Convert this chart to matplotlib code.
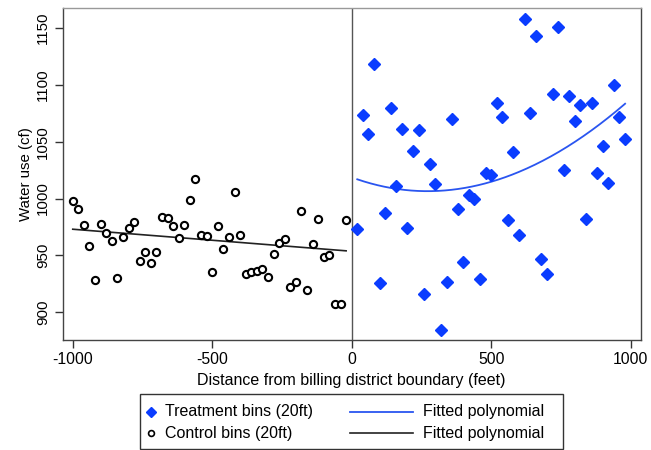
import numpy as np
import matplotlib
matplotlib.use("Agg")
import matplotlib.pyplot as plt
from matplotlib.patches import Rectangle
from matplotlib.lines import Line2D

plt.rcParams['font.family'] = ['Liberation Sans', 'DejaVu Sans']

# ---- data ----
control_x = list(range(-1000, 0, 20))
control_y = [998, 991, 977, 958, 928, 978, 970, 963, 930, 966,
             974, 979, 945, 953, 943, 953, 984, 983, 976, 965,
             977, 999, 1017, 968, 967, 935, 976, 956, 966, 1006,
             968, 934, 935, 936, 938, 931, 951, 961, 964, 922,
             927, 989, 920, 960, 982, 949, 950, 907, 907, 981]

treat_x = list(range(20, 1000, 20))
treat_y = [973, 1073, 1057, 1118, 926, 987, 1080, 1011, 1061, 974,
           1042, 1060, 916, 1030, 1013, 884, 927, 1070, 991, 944,
           1003, 1000, 929, 1022, 1021, 1084, 1072, 981, 1041, 968,
           1158, 1075, 1143, 947, 934, 1092, 1151, 1025, 1090, 1068,
           1082, 982, 1084, 1022, 1046, 1014, 1100, 1072, 1052]

# fitted polynomial values
control_fit_x = [-1000, -20]
control_fit_y = [973, 954]
treat_fit_x = [20, 257, 472, 675, 980]
treat_fit_y = [1017, 1006, 1013.6, 1031.5, 1083.4]

x_ticks = [-1000, -500, 0, 500, 1000]
y_ticks = [900, 950, 1000, 1050, 1100, 1150]

legend_labels = ['Treatment bins (20ft)', 'Control bins (20ft)',
                 'Fitted polynomial', 'Fitted polynomial']

blue = '#0a3cff'
fit_blue = '#2a55f0'
W, H = 651, 450

fig = plt.figure(figsize=(W / 100, H / 100), dpi=100)
ax = fig.add_axes([62.7 / W, 1 - 340 / H, (640.7 - 62.7) / W, (340 - 8) / H])

cx = np.array(control_x); cy = np.array(control_y)
tx = np.array(treat_x); ty = np.array(treat_y)

cc = np.polyfit(control_fit_x, control_fit_y, 1)
cfx = np.linspace(min(control_fit_x), max(control_fit_x), 100)
tc = np.polyfit(treat_fit_x, treat_fit_y, 3)
tfx = np.linspace(min(treat_fit_x), max(treat_fit_x), 200)

ax.axvline(0, color='#555555', lw=1.0, zorder=1)

ax.plot(tx, ty, linestyle='none', marker='D', ms=6.3, color=blue, mec=blue, zorder=3)
ax.plot(cx, cy, linestyle='none', marker='o', ms=5.2, mfc='white', mec='black', mew=1.5, zorder=3)
ax.plot(tfx, np.polyval(tc, tfx), color=fit_blue, lw=1.3, zorder=2)
ax.plot(cfx, np.polyval(cc, cfx), color='#222222', lw=1.2, zorder=2)

ax.set_xlim(-1036, 1036)
ax.set_ylim(875.6, 1167.5)
ax.set_xticks(x_ticks)
ax.set_xticklabels([str(v) for v in x_ticks])
ax.set_yticks(y_ticks)
ax.set_yticklabels([str(v) for v in y_ticks], rotation=90, va='center')
ax.tick_params(axis='both', direction='out', length=6, width=1, color='#333333', pad=3)
ax.tick_params(axis='x', labelsize=11.3)
ax.tick_params(axis='y', labelsize=10.8)

for s in ['left', 'bottom', 'right']:
    ax.spines[s].set_color('#444444')
    ax.spines[s].set_linewidth(1.0)
ax.spines['top'].set_color('#999999')
ax.spines['top'].set_linewidth(1.0)

ax.set_xlabel('Distance from billing district boundary (feet)', fontsize=11.5, labelpad=4)
ax.set_ylabel('Water use (cf)', fontsize=10.8, labelpad=2)

# ---- legend drawn in pixel coordinates ----
lax = fig.add_axes([0, 0, 1, 1], zorder=5)
lax.set_xlim(0, W)
lax.set_ylim(H, 0)
lax.axis('off')
lax.patch.set_alpha(0)
lax.add_patch(Rectangle((140, 394), 423, 54.5, fill=False, edgecolor='#333333', lw=1.0))
rows = [411.7, 433.3]
lax.plot([150.7], [rows[0]], linestyle='none', marker='D', ms=5.5, color=blue)
lax.plot([150.7], [rows[1]], linestyle='none', marker='o', ms=4.2, mfc='white', mec='black', mew=1.2)
lax.plot([350, 413], [rows[0], rows[0]], color=fit_blue, lw=1.3)
lax.plot([350, 413], [rows[1], rows[1]], color='#222222', lw=1.2)
lax.text(165, rows[0], legend_labels[0], fontsize=11.5, va='center', ha='left')
lax.text(165, rows[1], legend_labels[1], fontsize=11.5, va='center', ha='left')
lax.text(423, rows[0], legend_labels[2], fontsize=11.5, va='center', ha='left')
lax.text(423, rows[1], legend_labels[3], fontsize=11.5, va='center', ha='left')

fig.savefig('out.png', dpi=100)
